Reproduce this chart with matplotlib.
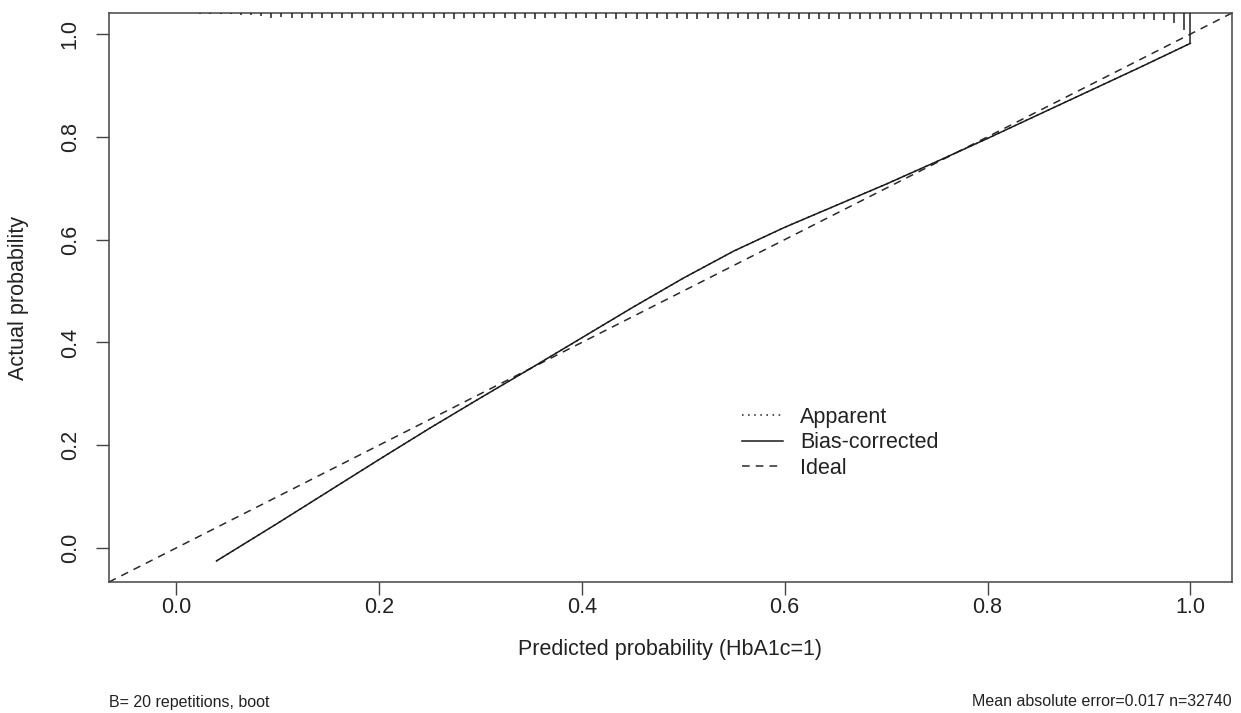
import matplotlib
matplotlib.use('Agg')
import matplotlib.pyplot as plt

plt.rcParams['font.family'] = ['Liberation Sans', 'DejaVu Sans']

# calibration curves (predicted -> actual)
pred = [0.04, 0.10, 0.15, 0.20, 0.25, 0.30, 0.35, 0.40, 0.45, 0.50,
        0.55, 0.60, 0.65, 0.70, 0.75, 0.80, 0.85, 0.90, 0.95, 1.00]
bias_corrected = [-0.025, 0.048, 0.110, 0.172, 0.233, 0.292, 0.350, 0.409, 0.468, 0.525,
                  0.578, 0.624, 0.666, 0.708, 0.752, 0.797, 0.843, 0.889, 0.935, 0.982]
apparent = [-0.025, 0.048, 0.110, 0.172, 0.233, 0.292, 0.350, 0.409, 0.468, 0.525,
            0.578, 0.624, 0.666, 0.708, 0.752, 0.797, 0.843, 0.889, 0.935, 0.982]

# rug of predicted probabilities (relative frequency per bin)
rug_x = [0.024, 0.034, 0.044, 0.054, 0.064, 0.074, 0.084, 0.094, 0.104, 0.114,
         0.124, 0.134, 0.144, 0.154, 0.164, 0.174, 0.184, 0.194, 0.204, 0.214,
         0.224, 0.234, 0.244, 0.254, 0.264, 0.274, 0.284, 0.294, 0.304, 0.314,
         0.324, 0.334, 0.344, 0.354, 0.364, 0.374, 0.384, 0.394, 0.404, 0.414,
         0.424, 0.434, 0.444, 0.454, 0.464, 0.474, 0.484, 0.494, 0.504, 0.514,
         0.524, 0.534, 0.544, 0.554, 0.564, 0.574, 0.584, 0.594, 0.604, 0.614,
         0.624, 0.634, 0.644, 0.654, 0.664, 0.674, 0.684, 0.694, 0.704, 0.714,
         0.724, 0.734, 0.744, 0.754, 0.764, 0.774, 0.784, 0.794, 0.804, 0.814,
         0.824, 0.834, 0.844, 0.854, 0.864, 0.874, 0.884, 0.894, 0.904, 0.914,
         0.924, 0.934, 0.944, 0.954, 0.964, 0.974, 0.984, 0.994, 1.000]
rug_freq = [1, 1, 1, 1.5, 2, 2.5, 3, 5, 4.5, 5,
            5, 5, 5.5, 5, 5.5, 5, 5.5, 5.5, 5, 5.5,
            5.5, 5, 5.5, 5.5, 5, 6, 5.5, 5.5, 5.5, 5.5,
            5.5, 6, 5.5, 6, 5.5, 5.5, 6, 5.5, 5.5, 6,
            5.5, 6, 5.5, 6, 6, 5.5, 6, 5.5, 6, 6,
            5.5, 6, 6, 5.5, 6, 6, 6, 5.5, 6, 6,
            6, 6, 6, 6, 6, 6, 6, 6, 6, 6,
            6, 6, 6, 6, 6, 6, 6, 6, 6, 6,
            6, 6, 6, 6, 6, 6, 6, 6, 6, 6.5,
            6.5, 6.5, 6.5, 6.5, 7, 7.5, 10, 17, 30]

W, H = 1241, 713
fig = plt.figure(figsize=(W / 100, H / 100), dpi=100)
left, right, top, bottom = 109, 1232, 13, 582
ax = fig.add_axes([left / W, 1 - bottom / H, (right - left) / W, (bottom - top) / H])

lims = (-0.066, 1.041)
ax.set_xlim(lims)
ax.set_ylim(lims)

fs = 15.5
ax.plot(lims, lims, color='#2a2a2a', lw=1.1, ls=(0, (5, 4)), label='Ideal', zorder=2)
ax.plot(pred, apparent, color='#1a1a1a', lw=1.1, ls=(0, (1, 3)), label='Apparent', zorder=3)
ax.plot(pred, bias_corrected, color='#1a1a1a', lw=1.1, ls='-', label='Bias-corrected', zorder=4)

# rug along the top edge
max_len = 0.058
lens = [f / max(rug_freq) * max_len for f in rug_freq]
ax.vlines(rug_x, [lims[1] - l for l in lens], lims[1], color='#222222', lw=1.1, zorder=4)

ticks = [0.0, 0.2, 0.4, 0.6, 0.8, 1.0]
ax.set_xticks(ticks)
ax.set_yticks(ticks)
ax.set_xticklabels(['%.1f' % t for t in ticks])
ax.set_yticklabels(['%.1f' % t for t in ticks], rotation=90, va='center')
ax.tick_params(axis='both', length=9.4, width=1.0, color='#444444', labelsize=fs, labelcolor='#222222')
ax.tick_params(axis='x', pad=1.6)
ax.tick_params(axis='y', pad=11.0)
for s in ax.spines.values():
    s.set_color('#444444')
    s.set_linewidth(1.1)

ax.set_xlabel('Predicted probability (HbA1c=1)', fontsize=fs, color='#222222')
ax.set_ylabel('Actual probability', fontsize=fs, color='#222222')
ax.xaxis.set_label_coords(0.5, (bottom - 650) / (bottom - top))
ax.yaxis.set_label_coords((19 - left) / (right - left), 0.5)
ax.xaxis.label.set_va('center')
ax.yaxis.label.set_va('center')

handles, labels = ax.get_legend_handles_labels()
order = [1, 2, 0]
ax.legend([handles[i] for i in order], [labels[i] for i in order],
          loc='upper left', bbox_to_anchor=(742 / W, 1 - 407 / H),
          bbox_transform=fig.transFigure, frameon=False, fontsize=fs,
          handlelength=1.9, handletextpad=0.8, labelspacing=0.2,
          borderpad=0, borderaxespad=0, labelcolor='#222222')

fig.text(left / W, 1 - 702 / H, 'B= 20 repetitions, boot', fontsize=11.5,
         ha='left', va='center', color='#222222')
fig.text(right / W, 1 - 702 / H, 'Mean absolute error=0.017 n=32740', fontsize=11.5,
         ha='right', va='center', color='#222222')

fig.savefig('out.png', dpi=100)
